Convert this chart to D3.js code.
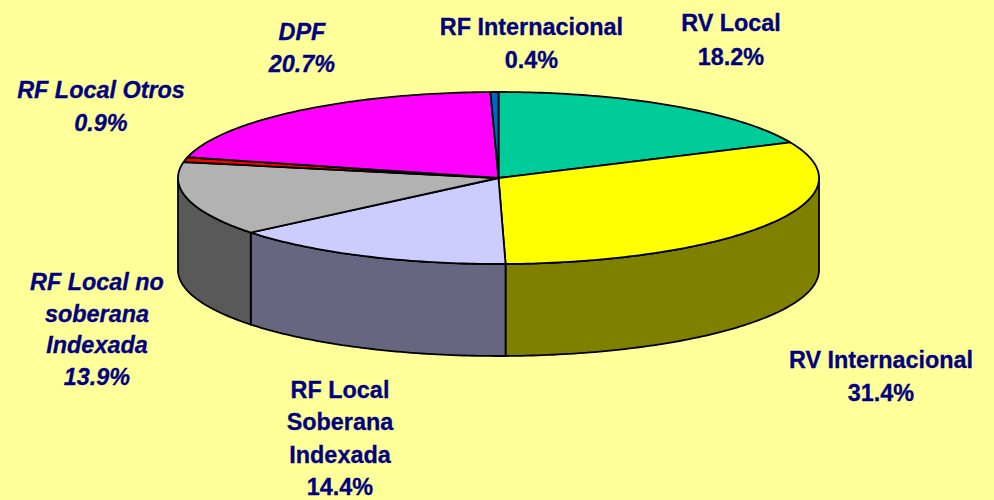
<!DOCTYPE html>
<html><head><meta charset="utf-8">
<script src="https://cdnjs.cloudflare.com/ajax/libs/d3/7.8.5/d3.min.js"></script>
<style>html,body{margin:0;padding:0;background:#FFFF99;overflow:hidden}svg{display:block}
text{font-family:"Liberation Sans",Arial,sans-serif;font-weight:bold;font-size:23.4px;fill:#000080;stroke:#000080;stroke-width:0.3px;text-anchor:middle}</style>
</head><body><div id="c"></div>
<script>
const categories = ["RV Local","RV Internacional","RF Local Soberana Indexada","RF Local no soberana Indexada","RF Local Otros","DPF","RF Internacional"];
const values = [18.2,31.4,14.4,13.9,0.9,20.7,0.4];
const labelLines = [["RV Local"],["RV Internacional"],["RF Local","Soberana","Indexada"],["RF Local no","soberana","Indexada"],["RF Local Otros"],["DPF"],["RF Internacional"]];
const italicLabel = [false,false,false,true,true,true,false];
const topColors = ["#00CC99","#FFFF00","#CCCCFF","#B2B2B2","#FF0000","#FF00FF","#0066CC"];
const sideColors = ["#006650","#808000","#666680","#595959","#800000","#800080","#003366"];

const W=994,H=500, cx=498.5, cy=178, rx=320.5, ry=86, depth=92;
// label layout: centre x, first-line baseline y, line spacing
const labelPos = [[731,31,33.5],[881,368,33],[340,398,32.4],[97,290,31.5],[101,98,33],[302,40,32],[531.5,35,33]];

const svg=d3.select("#c").append("svg").attr("width",W).attr("height",H);
svg.append("rect").attr("width",W).attr("height",H).attr("fill","#FFFF99");

const pie=d3.pie().sort(null).value(d=>d).startAngle(0).endAngle(2*Math.PI);
const arcs=pie(values);
const X=d3.scaleLinear().domain([-1,1]).range([cx-rx,cx+rx]);
const Y=d3.scaleLinear().domain([-1,1]).range([cy-ry,cy+ry]);
const pt=(a,dz=0)=>[X(Math.sin(a)),Y(-Math.cos(a))+dz];
const line=d3.line();
const sample=(a0,a1,dz=0)=>{const n=Math.max(2,Math.ceil(Math.abs(a1-a0)*60));return d3.range(n+1).map(i=>pt(a0+(a1-a0)*i/n,dz));};

const stroke={stroke:"#000",sw:1.8};
const lo=Math.PI/2, hi=3*Math.PI/2;
arcs.forEach((d,i)=>{
  const a0=Math.max(d.startAngle,lo), a1=Math.min(d.endAngle,hi);
  if(a1<=a0) return;
  const pts=sample(a0,a1).concat(sample(a1,a0,depth));
  svg.append("path").attr("d",line(pts)+"Z").attr("fill",sideColors[i])
    .attr("stroke",stroke.stroke).attr("stroke-width",stroke.sw).attr("stroke-linejoin","round");
});
arcs.forEach((d,i)=>{
  const pts=[[cx,cy]].concat(sample(d.startAngle,d.endAngle));
  svg.append("path").attr("d",line(pts)+"Z").attr("fill",topColors[i])
    .attr("stroke",stroke.stroke).attr("stroke-width",stroke.sw).attr("stroke-linejoin","round");
});
const fmt=d3.format(".1f");
categories.forEach((c,i)=>{
  const [x,y,dy]=labelPos[i];
  const t=svg.append("text").style("font-style",italicLabel[i]?"italic":"normal");
  labelLines[i].concat([fmt(values[i])+"%"]).forEach((s,j)=>{
    t.append("tspan").attr("x",x).attr("y",y+j*dy).text(s);
  });
});
</script></body></html>
